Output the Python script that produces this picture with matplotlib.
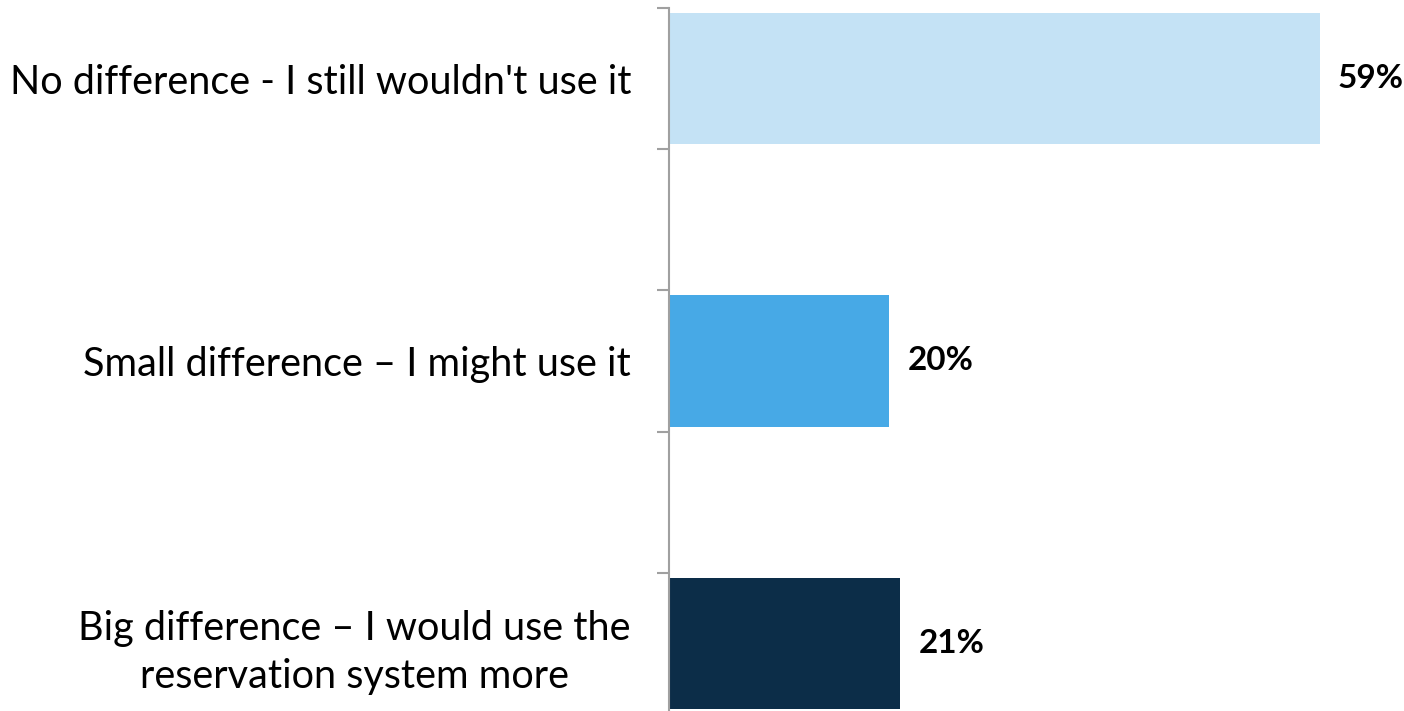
import matplotlib
matplotlib.use("Agg")
import matplotlib.pyplot as plt

categories = ["No difference - I still wouldn't use it",
              "",
              "Small difference \u2013 I might use it",
              "",
              "Big difference \u2013 I would use the\nreservation system more"]
values = [59, None, 20, None, 21]
colors = ["#C4E2F5", None, "#47A9E6", None, "#0C2D48"]

W, H = 1404, 711
fig = plt.figure(figsize=(W/100, H/100), dpi=100)
plt.rcParams['font.family'] = ['Lato', 'DejaVu Sans']

px_per = (1320 - 668.5) / 59.0
xmax = 66
left = 668.5 / W
width = xmax * px_per / W
top_px, bot_px = 8, 714
ax = fig.add_axes([left, (H - bot_px) / H, width, (bot_px - top_px) / H])

n = len(categories)
pos = list(range(n))
for i, (v, c) in enumerate(zip(values, colors)):
    if v is None:
        continue
    ax.barh(i, v, height=0.93, color=c)
    ax.text(v + 18/px_per, i, f"{v}%", va='center', ha='left',
            fontsize=24, fontweight='bold', color='#000000')

ax.set_ylim(n - 0.5, -0.5)
ax.set_xlim(0, xmax)
ax.set_yticks([i - 0.5 for i in range(n + 1)])
ax.set_yticklabels([])
ax.tick_params(axis='y', length=9, width=1.5, color='#A0A0A0')
ax.set_yticks(pos, minor=True)
ax.set_yticklabels(categories, minor=True, fontsize=28.5, multialignment='center',
                   linespacing=1.36)
ax.tick_params(axis='y', which='minor', length=0, pad=27)
ax.set_xticks([])
for s in ['top', 'right', 'bottom']:
    ax.spines[s].set_visible(False)
ax.spines['left'].set_color('#A0A0A0')
ax.spines['left'].set_linewidth(1.5)

fig.savefig("out.png", dpi=100)
